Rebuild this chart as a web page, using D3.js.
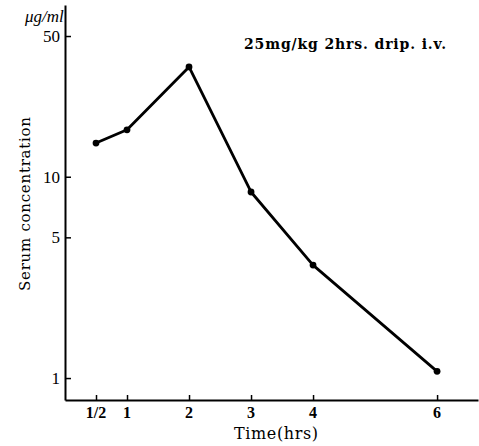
<!DOCTYPE html>
<html><head><meta charset="utf-8">
<script src="https://cdn.jsdelivr.net/npm/d3@7"></script>
<style>body{margin:0;background:#fff}svg{display:block}</style>
</head><body>
<svg id="c" width="479" height="446"></svg>
<script>
const times = [0.5, 1, 2, 3, 4, 6];
const concentrations = [14.7, 17.1, 35.1, 8.4, 3.64, 1.08];
const xTickValues = [0.5, 1, 2, 3, 4, 6];
const xTickLabels = ["1/2", "1", "2", "3", "4", "6"];
const yTickValues = [1, 5, 10, 50];
const yTickLabels = ["1", "5", "10", "50"];

const svg = d3.select("#c");
const font = "'Liberation Serif', 'DejaVu Serif', serif";
const x = d3.scaleLinear().domain([0, 6.66]).range([65, 478]);
const y = d3.scaleLog().domain([0.778, 71.3]).range([400, 5]);

// axes
const gx = svg.append("g").attr("transform", "translate(0,400)")
  .call(d3.axisTop(x).tickValues(xTickValues).tickFormat("").tickSizeInner(5).tickSizeOuter(0));
gx.select(".domain").attr("stroke-width", 2);
gx.selectAll(".tick line").attr("stroke-width", 1.5);
svg.append("g").selectAll("text").data(xTickValues).join("text")
  .attr("x", d => x(d)).attr("y", 418).attr("text-anchor", "middle")
  .attr("font-family", font).attr("font-size", 16).attr("font-weight", "bold")
  .text((d, i) => xTickLabels[i]);

const gy = svg.append("g").attr("transform", "translate(65,0)")
  .call(d3.axisRight(y).tickValues(yTickValues).tickFormat("").tickSizeInner(6).tickSizeOuter(0));
gy.select(".domain").attr("stroke-width", 2);
gy.selectAll(".tick line").attr("stroke-width", 1.5);
svg.append("g").selectAll("text").data(yTickValues).join("text")
  .attr("x", 60).attr("y", d => y(d) + 6).attr("text-anchor", "end")
  .attr("font-family", font).attr("font-size", 17)
  .text((d, i) => yTickLabels[i]);

// line + points
const line = d3.line().x((d, i) => x(times[i])).y(d => y(d));
svg.append("path").datum(concentrations).attr("d", line)
  .attr("fill", "none").attr("stroke", "#000").attr("stroke-width", 2.8)
  .attr("stroke-linejoin", "round");
svg.append("g").selectAll("circle").data(concentrations).join("circle")
  .attr("cx", (d, i) => x(times[i])).attr("cy", d => y(d)).attr("r", 3.4).attr("fill", "#000");

// labels
svg.append("text").attr("x", 25).attr("y", 22).attr("font-family", font)
  .attr("font-size", 17).attr("font-style", "italic").text("μg/ml");
svg.append("text").attr("x", 244).attr("y", 49).attr("font-family", "'DejaVu Serif', serif")
  .attr("font-size", 14).attr("font-weight", "bold")
  .attr("textLength", 202).attr("lengthAdjust", "spacing").text("25mg/kg 2hrs. drip. i.v.");
svg.append("text").attr("transform", "translate(30,204) rotate(-90)").attr("text-anchor", "middle")
  .attr("font-family", "'DejaVu Serif', serif").attr("font-size", 15)
  .attr("textLength", 174).attr("lengthAdjust", "spacing").text("Serum concentration");
svg.append("text").attr("x", 276).attr("y", 439).attr("text-anchor", "middle")
  .attr("font-family", "'DejaVu Serif', serif").attr("font-size", 16)
  .attr("textLength", 84).attr("lengthAdjust", "spacing").text("Time(hrs)");
</script>
</body></html>
